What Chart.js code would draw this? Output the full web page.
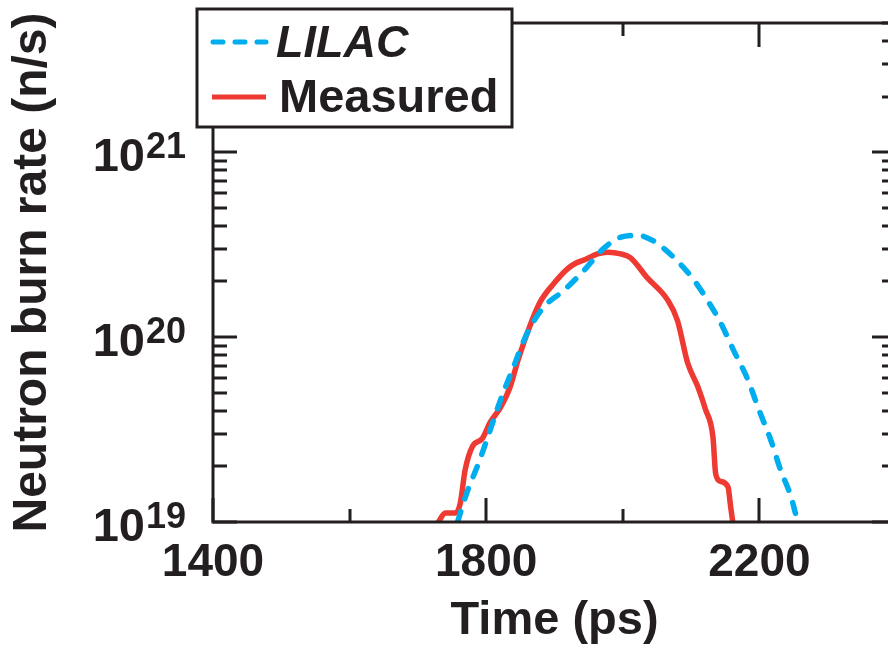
<!DOCTYPE html>
<html lang="en">

<head>
    <meta charset="UTF-8">
    <title>Neutron burn rate</title>
    <script src="https://cdn.jsdelivr.net/npm/chart.js@4"></script>
    <style>
        html, body {
            margin: 0;
            padding: 0;
            background: #fff;
            overflow: hidden;
        }
        #wrap {
            width: 910px;
            height: 657px;
        }
    </style>
</head>

<body>
    <div id="wrap">
        <canvas id="burn-chart" width="910" height="657"></canvas>
    </div>

    <script>
        // values (time in ps, rate in n/s)
        const lilacTime = [1758, 1772, 1789, 1806, 1821, 1838, 1860, 1884, 1913, 1943, 1972, 1997, 2022,
            2045, 2075, 2104, 2124, 2143, 2162, 2183, 2199, 2217, 2231, 2246, 2256];
        const lilacRate = [1.0e19, 1.45e19, 2.09e19, 3.16e19, 4.57e19, 6.61e19, 1.05e20, 1.45e20, 1.78e20,
            2.29e20, 3.02e20, 3.47e20, 3.55e20, 3.31e20, 2.69e20, 2.04e20, 1.58e20, 1.20e20, 8.51e19,
            5.89e19, 4.07e19, 2.75e19, 1.91e19, 1.38e19, 1.0e19];

        const measuredTime = [1730, 1740, 1755, 1762, 1769, 1780, 1794, 1806, 1821, 1835, 1847, 1862, 1879,
            1899, 1919, 1931, 1945, 1963, 1978, 1997, 2011, 2036, 2066, 2080, 2095, 2110, 2121, 2132, 2136,
            2143, 2154, 2158, 2161];
        const measuredRate = [1.0e19, 1.12e19, 1.12e19, 1.26e19, 1.9e19, 2.57e19, 2.82e19, 3.47e19, 4.17e19,
            5.37e19, 7.59e19, 1.10e20, 1.55e20, 1.95e20, 2.34e20, 2.51e20, 2.63e20, 2.82e20, 2.88e20, 2.82e20,
            2.69e20, 2.09e20, 1.58e20, 1.23e20, 7.24e19, 5.37e19, 4.07e19, 2.88e19, 1.82e19, 1.66e19,
            1.55e19, 1.20e19, 1.0e19];

        const xTicks = [1400, 1600, 1800, 2000, 2200, 2400];
        const xLabelled = [1400, 1800, 2200];
        const yDecades = [1e19, 1e20, 1e21];
        const yExponents = ['19', '20', '21'];
        const yMinorSteps = [2, 3, 4, 5, 6, 7, 8, 9];

        const INK = '#231f20';
        const BLUE = '#00aeef';
        const RED = '#ee3a32';
        const FONT = '"Liberation Sans", Arial, sans-serif';

        const toPoints = (xs, ys) => xs.map((x, i) => ({ x: x, y: ys[i] }));

        // frame with inward ticks on all four sides
        const frameTicks = {
            id: 'frameTicks',
            afterDatasetsDraw(chart) {
                const { ctx, chartArea: a, scales: { x, y } } = chart;
                ctx.save();
                ctx.strokeStyle = INK;
                ctx.lineWidth = 3;
                ctx.lineCap = 'butt';
                ctx.strokeRect(a.left, a.top, a.right - a.left, a.bottom - a.top);

                ctx.beginPath();
                xTicks.forEach(t => {
                    const px = Math.round(x.getPixelForValue(t));
                    const len = xLabelled.includes(t) ? 24 : 13;
                    ctx.moveTo(px, a.bottom);
                    ctx.lineTo(px, a.bottom - len);
                    ctx.moveTo(px, a.top);
                    ctx.lineTo(px, a.top + len);
                });
                yDecades.forEach(d => {
                    const tickVals = [[d, 24]].concat(yMinorSteps.map(m => [d * m, 14]));
                    tickVals.forEach(([v, len]) => {
                        if (v > y.max) return;
                        const py = Math.round(y.getPixelForValue(v));
                        ctx.moveTo(a.left, py);
                        ctx.lineTo(a.left + len, py);
                        ctx.moveTo(a.right, py);
                        ctx.lineTo(a.right - len, py);
                    });
                });
                ctx.stroke();

                // y labels 10^n
                ctx.fillStyle = INK;
                ctx.textBaseline = 'alphabetic';
                ctx.textAlign = 'right';
                yDecades.forEach((d, i) => {
                    const py = y.getPixelForValue(d);
                    const right = a.left - 27;
                    ctx.font = 'bold 36px ' + FONT;
                    const w = ctx.measureText(yExponents[i]).width;
                    ctx.fillText(yExponents[i], right, py + 6);
                    ctx.font = 'bold 47px ' + FONT;
                    ctx.fillText('10', right - w - 1, py + 19);
                });
                ctx.restore();
            }
        };

        // legend box in the top-left corner
        const boxLegend = {
            id: 'boxLegend',
            afterDraw(chart) {
                const ctx = chart.ctx;
                ctx.save();
                ctx.fillStyle = '#fff';
                ctx.fillRect(197, 9, 315, 118);
                ctx.strokeStyle = INK;
                ctx.lineWidth = 3;
                ctx.strokeRect(197, 9, 315, 118);

                ctx.lineWidth = 5;
                ctx.lineCap = 'round';
                ctx.strokeStyle = BLUE;
                ctx.setLineDash([10, 12]);
                ctx.beginPath();
                ctx.moveTo(213, 42);
                ctx.lineTo(266, 42);
                ctx.stroke();

                ctx.setLineDash([]);
                ctx.lineCap = 'butt';
                ctx.strokeStyle = RED;
                ctx.beginPath();
                ctx.moveTo(212, 97);
                ctx.lineTo(266, 97);
                ctx.stroke();

                ctx.fillStyle = INK;
                ctx.textAlign = 'left';
                ctx.textBaseline = 'alphabetic';
                ctx.font = 'italic bold 45px ' + FONT;
                ctx.fillText('LILAC', 276, 57);
                ctx.font = 'bold 47px ' + FONT;
                ctx.fillText('Measured', 279, 112);
                ctx.restore();
            }
        };

        const ctx = document.getElementById('burn-chart').getContext('2d');

        new Chart(ctx, {
            type: 'line',
            data: {
                datasets: [{
                    label: 'LILAC',
                    data: toPoints(lilacTime, lilacRate),
                    borderColor: BLUE,
                    borderWidth: 5.5,
                    borderDash: [11, 13],
                    borderCapStyle: 'round',
                    cubicInterpolationMode: 'monotone',
                    pointRadius: 0,
                    fill: false
                }, {
                    label: 'Measured',
                    data: toPoints(measuredTime, measuredRate),
                    borderColor: RED,
                    borderWidth: 5.5,
                    borderCapStyle: 'round',
                    borderJoinStyle: 'round',
                    cubicInterpolationMode: 'monotone',
                    pointRadius: 0,
                    fill: false
                }]
            },
            options: {
                responsive: false,
                animation: false,
                events: [],
                layout: {
                    padding: { top: 23, right: 5, left: 0, bottom: 0 }
                },
                plugins: {
                    legend: { display: false },
                    tooltip: { enabled: false }
                },
                scales: {
                    x: {
                        type: 'linear',
                        min: 1400,
                        max: 2400,
                        afterFit: s => { s.height = 135; },
                        afterBuildTicks: s => { s.ticks = xTicks.map(v => ({ value: v })); },
                        grid: { display: false, drawTicks: false },
                        border: { display: false },
                        ticks: {
                            autoSkip: false,
                            maxRotation: 0,
                            padding: 14,
                            color: INK,
                            font: { family: FONT, size: 46, weight: 'bold' },
                            callback: v => xLabelled.includes(v) ? String(v) : ''
                        },
                        title: {
                            display: true,
                            text: 'Time (ps)',
                            color: INK,
                            padding: { top: 0, bottom: 8 },
                            font: { family: FONT, size: 47, weight: 'bold' }
                        }
                    },
                    y: {
                        type: 'logarithmic',
                        min: 1e19,
                        max: 5e21,
                        afterFit: s => { s.width = 213; },
                        grid: { display: false, drawTicks: false },
                        border: { display: false },
                        ticks: { display: false },
                        title: {
                            display: true,
                            text: 'Neutron burn rate (n/s)',
                            color: INK,
                            padding: { top: 4, bottom: 0 },
                            font: { family: FONT, size: 48, weight: 'bold' }
                        }
                    }
                }
            },
            plugins: [frameTicks, boxLegend]
        });
    </script>
</body>

</html>
